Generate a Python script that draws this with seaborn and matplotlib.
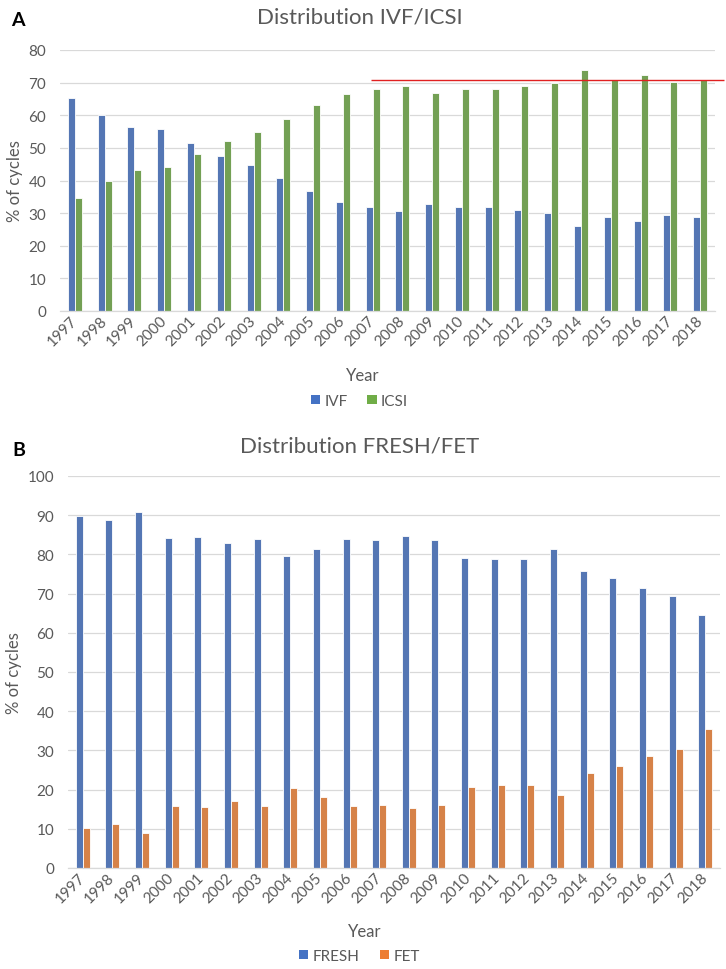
import matplotlib
matplotlib.use("Agg")
import matplotlib.pyplot as plt
import pandas as pd
import seaborn as sns
from matplotlib.patches import Patch

YEARS = [str(y) for y in range(1997, 2019)]

IVF = [65.2, 60.2, 56.5, 55.8, 51.6, 47.6, 44.9, 40.9, 36.7, 33.3, 31.9,
       30.6, 32.9, 31.9, 31.9, 31.0, 30.0, 26.0, 28.8, 27.7, 29.5, 28.8]
ICSI = [34.6, 39.7, 43.3, 44.1, 48.2, 52.2, 55.0, 59.0, 63.2, 66.6, 68.0,
        69.1, 66.9, 68.0, 68.0, 68.9, 69.9, 73.9, 70.9, 72.2, 70.2, 70.9]

FRESH = [89.9, 88.7, 90.9, 84.3, 84.4, 83.0, 84.0, 79.6, 81.5, 84.0, 83.8,
         84.7, 83.7, 79.2, 78.8, 78.7, 81.3, 75.8, 74.0, 71.5, 69.5, 64.6]
FET = [10.2, 11.3, 9.0, 15.7, 15.5, 17.0, 15.9, 20.3, 18.2, 15.8, 16.0,
       15.3, 16.1, 20.7, 21.2, 21.2, 18.6, 24.2, 26.0, 28.5, 30.4, 35.4]

# red reference line in panel A (ICSI level, drawn from 2007 on)
REF_LEVEL = 70.9

BLUE = "#4472C4"
GREEN = "#70AD47"
ORANGE = "#ED7D31"
TEXT = "#595959"
GRID = "#D9D9D9"

W, H = 726, 970


def _long(a, b, name_a, name_b):
    return pd.DataFrame({
        "Year": YEARS * 2,
        "value": a + b,
        "series": [name_a] * len(a) + [name_b] * len(b),
    })


def _style_axis(ax, ymax, step):
    ax.set_ylim(0, ymax)
    ax.set_xlim(-0.5, len(YEARS) - 0.5)
    ax.set_yticks(range(0, ymax + 1, step))
    ax.grid(axis="y", color=GRID, linewidth=0.9)
    ax.grid(axis="x", visible=False)
    ax.set_axisbelow(True)
    for s in ["left", "right", "top"]:
        ax.spines[s].set_visible(False)
    ax.spines["bottom"].set_color(GRID)
    ax.spines["bottom"].set_linewidth(0.9)
    ax.tick_params(axis="both", length=0, colors=TEXT, labelsize=11)
    ax.tick_params(axis="y", pad=10)
    ax.tick_params(axis="x", pad=5)
    plt.setp(ax.get_xticklabels(), rotation=45, ha="right",
             rotation_mode="anchor", va="center")
    ax.set_xlabel("")
    ax.set_ylabel("% of cycles", color=TEXT, fontsize=12)
    leg = ax.get_legend()
    if leg is not None:
        leg.remove()


def _legend(fig, labels, colors, y):
    handles = [Patch(facecolor=c, edgecolor="none") for c in colors]
    fig.legend(handles, labels, loc="center", bbox_to_anchor=(0.495, 1 - y / H),
               ncol=2, frameon=False, handlelength=0.6, handleheight=0.6,
               handletextpad=0.3, columnspacing=1.3, fontsize=11,
               labelcolor=TEXT)


def main():
    sns.set_theme(style="whitegrid")
    plt.rcParams["font.family"] = ["Lato", "DejaVu Sans"]

    fig = plt.figure(figsize=(W / 100, H / 100), dpi=100)

    # panel A
    ax1 = fig.add_axes([60 / W, 1 - 312 / H, 655 / W, 261 / H])
    sns.barplot(data=_long(IVF, ICSI, "IVF", "ICSI"), x="Year", y="value",
                hue="series", palette=[BLUE, GREEN], width=0.47,
                edgecolor="white", linewidth=0.6, ax=ax1)
    _style_axis(ax1, 80, 10)
    ax1.hlines(REF_LEVEL, 9.95, 21.8, color="#E02020", linewidth=1.0,
               clip_on=False, zorder=5)

    fig.text(0.495, 1 - 18 / H, "Distribution IVF/ICSI", ha="center",
             va="center", fontsize=16, color=TEXT)
    fig.text(18 / W, 1 - 20 / H, "A", ha="center", va="center",
             fontsize=14, fontweight="bold", color="black")
    fig.text(363 / W, 1 - 376 / H, "Year", ha="center", va="center",
             fontsize=12, color=TEXT)
    _legend(fig, ["IVF", "ICSI"], [BLUE, GREEN], 402)

    # panel B
    ax2 = fig.add_axes([68 / W, 1 - 869 / H, 652 / W, 392 / H])
    sns.barplot(data=_long(FRESH, FET, "FRESH", "FET"), x="Year", y="value",
                hue="series", palette=[BLUE, ORANGE], width=0.47,
                edgecolor="white", linewidth=0.6, ax=ax2)
    _style_axis(ax2, 100, 10)

    fig.text(0.495, 1 - 447 / H, "Distribution FRESH/FET", ha="center",
             va="center", fontsize=16, color=TEXT)
    fig.text(19 / W, 1 - 451 / H, "B", ha="center", va="center",
             fontsize=14, fontweight="bold", color="black")
    fig.text(365 / W, 1 - 932 / H, "Year", ha="center", va="center",
             fontsize=12, color=TEXT)
    _legend(fig, ["FRESH", "FET"], [BLUE, ORANGE], 957)

    fig.savefig("out.png", dpi=100, facecolor="white")
    plt.close(fig)


if __name__ == "__main__":
    main()
